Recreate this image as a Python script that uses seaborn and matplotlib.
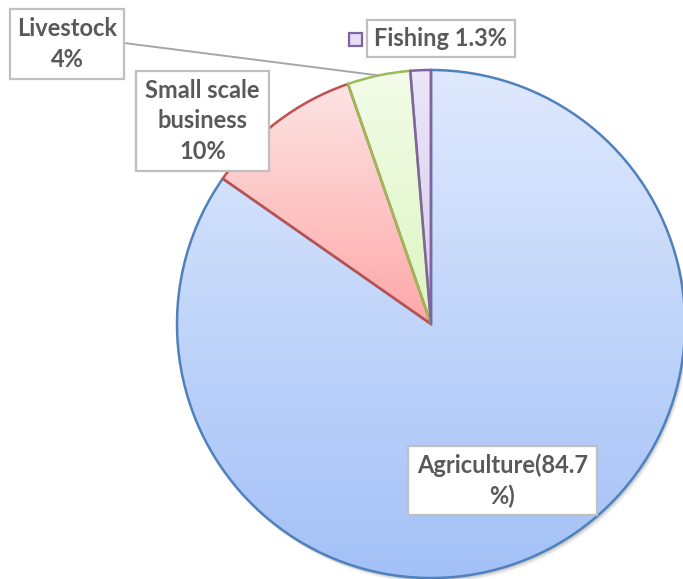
import numpy as np
import matplotlib
matplotlib.use('Agg')
import matplotlib.pyplot as plt
import seaborn as sns
from matplotlib.colors import to_rgb
from matplotlib.patches import Rectangle, Circle

# ---- data ----
categories = ['Agriculture', 'Small scale business', 'Livestock', 'Fishing']
values = [84.7, 10, 4, 1.3]
label_texts = ['Agriculture(84.7\n%)', 'Small scale\nbusiness\n10%', 'Livestock\n4%', 'Fishing 1.3%']

# ---- style ----
edge_colors = ['#4f81bd', '#c0504d', '#9bbb59', '#8064a2']
grad_top = ['#dfe9fd', '#fde3e3', '#f3fce9', '#ece6f8']
grad_bot = ['#a3c1f7', '#ffa8a8', '#dcf5c0', '#d6cbec']

sns.set_theme(style='white')
plt.rcParams['font.family'] = ['Lato', 'DejaVu Sans']

W, H = 683, 579
fig = plt.figure(figsize=(W / 100, H / 100), dpi=100)
ax = fig.add_axes([0, 0, 1, 1])

cx, cy, r = 431, H - 324, 254

# soft shadow
for off, a in [(5, 0.04), (4, 0.05), (3, 0.06), (2, 0.08)]:
    ax.add_patch(Circle((cx + off * 0.6, cy - off), r, fc='black', ec='none',
                        alpha=a, zorder=0.2))

wedges, _ = ax.pie(values, startangle=90, counterclock=False, center=(cx, cy),
                   radius=r, wedgeprops=dict(fc='white', lw=1.8))

for w, ec, ct, cb in zip(wedges, edge_colors, grad_top, grad_bot):
    w.set_edgecolor(ec)
    w.set_zorder(2)
    w.set_facecolor('none')
    ext = w.get_path().get_extents()
    n = 256
    t = np.linspace(0, 1, n)[:, None]
    c0 = np.array(to_rgb(cb)); c1 = np.array(to_rgb(ct))
    img = (c0[None, :] * (1 - t) + c1[None, :] * t)[:, None, :]
    im = ax.imshow(img, extent=[ext.x0, ext.x1, ext.y0, ext.y1], origin='lower',
                   aspect='auto', zorder=1, interpolation='bilinear')
    im.set_clip_path(w)

ax.set_xlim(0, W)
ax.set_ylim(0, H)
ax.set_aspect('equal')
ax.axis('off')

txt_color = '#595959'
fs = 17

# label boxes (pixel coords: x0, y0, x1, y1)
boxes = {
    'Agriculture': (408, 446, 597, 515),
    'Small scale business': (136, 71, 269, 171),
    'Livestock': (10, 9, 124, 79),
    'Fishing': (367, 20, 515, 57),
}
for cat, txt in zip(categories, label_texts):
    x0, y0, x1, y1 = boxes[cat]
    ax.add_patch(Rectangle((x0, H - y1), x1 - x0, y1 - y0, fc='white',
                           ec='#bfbfbf', lw=1.6, zorder=5))
    ax.text((x0 + x1) / 2, H - (y0 + y1) / 2, txt, ha='center', va='center',
            multialignment='center', fontsize=fs, fontweight='bold',
            color=txt_color, linespacing=1.4, zorder=6)

# leader line for Livestock
wl = wedges[categories.index('Livestock')]
mid = np.deg2rad((wl.theta1 + wl.theta2) / 2)
px, py = cx + r * np.cos(mid), cy + r * np.sin(mid)
ax.plot([124, px], [H - 43, py], color='#a6a6a6', lw=1.4, zorder=4)

# legend key for Fishing
ax.add_patch(Rectangle((349, H - 46), 13, 13, fc='#e5dff5', ec='#8064a2', lw=1.6, zorder=5))

fig.savefig('out.png', dpi=100)
